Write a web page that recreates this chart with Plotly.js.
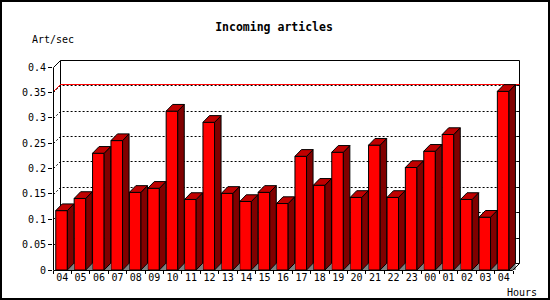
<!DOCTYPE html>
<html><head><meta charset="utf-8">
<script src="https://cdn.plot.ly/plotly-3.0.1.min.js"></script>
<style>html,body{margin:0;padding:0;background:#fff}#chart{width:550px;height:300px}</style>
</head><body><div id="chart"></div>
<script>
// ---- data ----
const hours = ['04','05','06','07','08','09','10','11','12','13','14','15','16','17','18','19','20','21','22','23','00','01','02','03','04'];
const artPerSec = [0.117,0.141,0.230,0.255,0.153,0.161,0.313,0.139,0.291,0.151,0.135,0.153,0.131,0.224,0.167,0.232,0.143,0.246,0.143,0.202,0.234,0.267,0.139,0.104,0.352];
const yTickVals = [0,0.05,0.1,0.15,0.2,0.25,0.3,0.35,0.4];
const yTickText = ['0','0.05','0.1','0.15','0.2','0.25','0.3','0.35','0.4'];
const gridVals = [0.05,0.1,0.15,0.2,0.25,0.3,0.35];
const yTop = 0.4;

// ---- geometry ----
const W = 550, H = 300;
const M = {l:53, r:28, t:58, b:30};
const plotW = W - M.l - M.r, plotH = H - M.t - M.b;
const N = hours.length;
const ppu = 18.4;            // px per category
const ppv = 507.5;           // px per unit value
const xMax = plotW / ppu, yMax = plotH / ppv;
const DXb = 7 / ppu, DYb = 7 / ppv;     // wall depth
const DX = 6.5 / ppu, DY = 6.7 / ppv;   // bar depth
const barL = 0.15, barW = 0.63;

const sx = x => (Math.floor(x * ppu) + 0.5) / plotW;
const sy = y => (Math.round(y * ppv) - 0.5) / plotH;

const shapes = [];
// back wall
shapes.push({type:'path', xref:'paper', yref:'paper', layer:'below',
  path:`M${sx(DXb)},${sy(DYb)} L${sx(DXb)},${sy(yTop+DYb)} L${sx(N+DXb)},${sy(yTop+DYb)} L${sx(N+DXb)},${sy(DYb)} Z`,
  line:{color:'black', width:1}, fillcolor:'white'});
// grid lines (dotted)
gridVals.forEach(v => {
  shapes.push({type:'path', xref:'paper', yref:'paper', layer:'below',
    path:`M${sx(0)},${sy(v)} L${sx(DXb)},${sy(v+DYb)} L${sx(N+DXb)},${sy(v+DYb)}`,
    line:{color:'black', width:1, dash:'2px,2px'}});
  shapes.push({type:'line', xref:'paper', yref:'paper', layer:'below',
    x0:sx(N+DXb-3/ppu), x1:sx(N+DXb), y0:sy(v+DYb), y1:sy(v+DYb),
    line:{color:'black', width:1}});
});
// max line
const maxV = Math.max(...artPerSec);
shapes.push({type:'path', xref:'paper', yref:'paper', layer:'below',
  path:`M${sx(0)},${sy(maxV)} L${sx(DXb)},${sy(maxV+DYb)} L${sx(N+DXb)},${sy(maxV+DYb)}`,
  line:{color:'#ff0000', width:1}});
// top-left diagonal
shapes.push({type:'path', xref:'paper', yref:'paper', layer:'below',
  path:`M${sx(0)},${sy(yTop)} L${sx(DXb)},${sy(yTop+DYb)}`,
  line:{color:'black', width:1}});
// front axes
shapes.push({type:'path', xref:'paper', yref:'paper', layer:'above',
  path:`M${sx(0)},${sy(yTop)} L${sx(0)},${sy(0)} L${sx(N)},${sy(0)} L${sx(N+DXb)},${sy(DYb)}`,
  line:{color:'black', width:1}});
// outer border
shapes.push({type:'rect', xref:'paper', yref:'paper', layer:'above',
  x0:(1-M.l)/plotW, x1:(W-1-M.l)/plotW, y0:(M.b-1-0)/plotH*-1+0, y1:0,
  line:{color:'black', width:2}, visible:false});
shapes.push({type:'rect', xref:'paper', yref:'paper', layer:'above',
  x0:(1-M.l)/plotW, x1:(W-1-M.l)/plotW, y0:-(M.b-1)/plotH, y1:(plotH+M.t-1)/plotH,
  line:{color:'black', width:2}});

// ---- bar faces from data ----
const xs = hours.map((h,i) => i + 0.5);
const sideX = [], sideY = [], topX = [], topY = [], shX = [], shY = [];
artPerSec.forEach((v,i) => {
  const l = i + barL, r = i + barL + barW;
  sideX.push(r, r+DX, r+DX, r, r, null); sideY.push(0, DY, v+DY, v, 0, null);
  topX.push(l, l+DX, r+DX, r, l, null);  topY.push(v, v+DY, v+DY, v, v, null);
  shX.push(r, r+DX, r+DX, r, null);      shY.push(0, DY, 0, 0, null);
});

const data = [
  {type:'bar', x:xs, y:artPerSec, width:barW, offset:barL-0.5,
   marker:{color:'#ff0000', line:{color:'black', width:1}}, hoverinfo:'skip', cliponaxis:false},
  {type:'scatter', mode:'lines', x:shX, y:shY, fill:'toself', fillcolor:'#808080',
   line:{color:'#808080', width:0.5}, hoverinfo:'skip', cliponaxis:false},
  {type:'scatter', mode:'lines', x:sideX, y:sideY, fill:'toself', fillcolor:'#800000',
   line:{color:'black', width:1}, hoverinfo:'skip', cliponaxis:false},
  {type:'scatter', mode:'lines', x:topX, y:topY, fill:'toself', fillcolor:'#c00000',
   line:{color:'black', width:1}, hoverinfo:'skip', cliponaxis:false}
];

const tickFont = {family:'DejaVu Sans Mono', size:10, color:'black'};
const layout = {
  width:W, height:H, margin:M, showlegend:false,
  paper_bgcolor:'white', plot_bgcolor:'rgba(0,0,0,0)',
  title:{text:'Incoming articles', font:{family:'DejaVu Sans Mono', size:11.5, color:'black', weight:'bold'},
         x:274/W, xanchor:'center', xref:'container', y:1-27/H, yanchor:'middle', yref:'container'},
  xaxis:{range:[0,xMax], tickmode:'array', tickvals:xs, ticktext:hours, ticks:'', showgrid:false,
         zeroline:false, showline:false, tickfont:tickFont, fixedrange:true,
         minor:{ticks:'outside', ticklen:3, tickcolor:'black', tickmode:'linear', tick0:0, dtick:1, showgrid:false}},
  yaxis:{range:[0,yMax], tickmode:'array', tickvals:yTickVals, ticktext:yTickText, ticks:'outside',
         ticklen:4, tickcolor:'black', showgrid:false, zeroline:false, showline:false,
         tickfont:tickFont, fixedrange:true},
  shapes:shapes,
  annotations:[
    {text:'Art/sec', xref:'paper', yref:'paper', x:(30-M.l)/plotW, y:(plotH+M.t-39-M.t)/plotH + 0*1, xanchor:'left', yanchor:'middle',
     showarrow:false, font:tickFont},
    {text:'Hours', xref:'paper', yref:'paper', x:(505-M.l)/plotW, y:-(292-(H-M.b))/plotH, xanchor:'left', yanchor:'middle',
     showarrow:false, font:tickFont}
  ]
};
// fix Art/sec y: pixel 39 -> paper
layout.annotations[0].y = ((H - M.b) - 39) / plotH;
Plotly.newPlot('chart', data, layout, {displayModeBar:false, staticPlot:true});
</script></body></html>
